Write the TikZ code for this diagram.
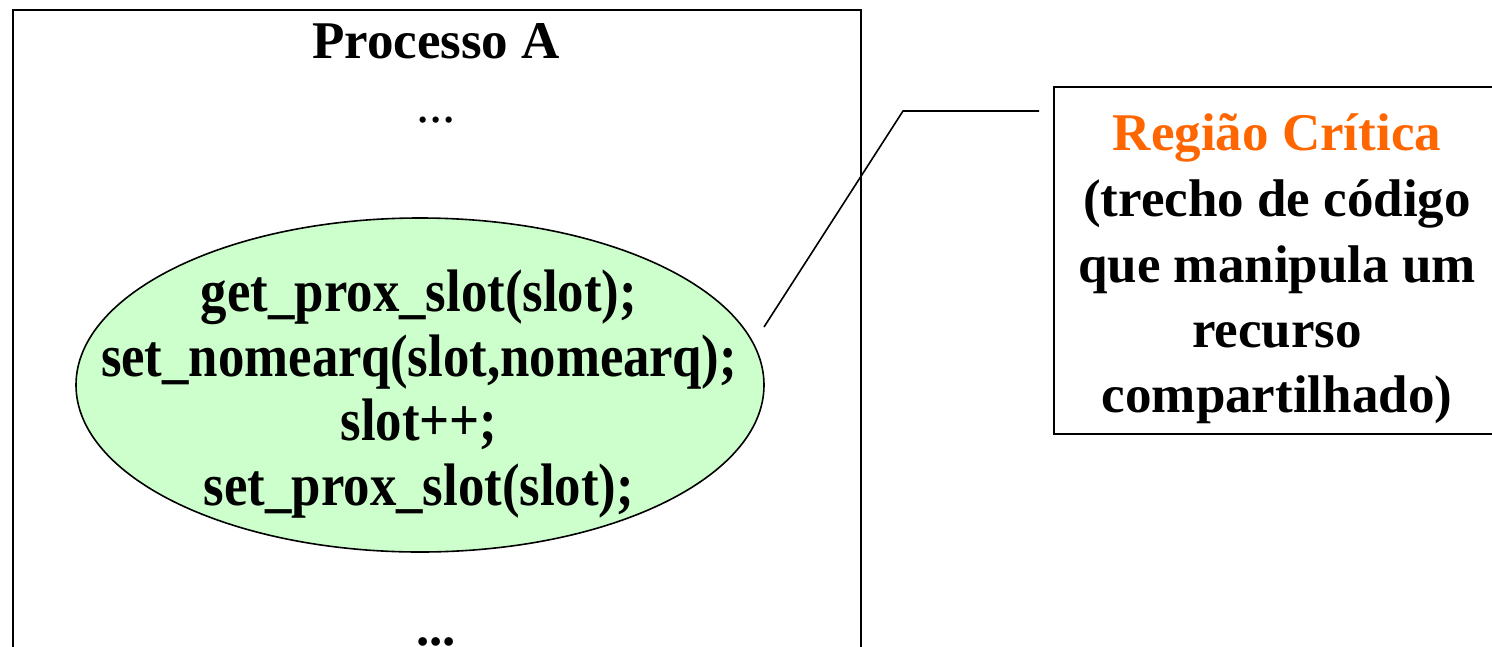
\documentclass[tikz,border=0pt]{standalone}
\usepackage{fontspec}
\setmainfont{Liberation Serif}
\newfontfamily\condfont[FakeStretch=0.88]{Liberation Serif}
\usetikzlibrary{shapes.geometric}
\definecolor{critorange}{HTML}{FF6600}
\definecolor{critgreen}{HTML}{CCFFCC}
\begin{document}
\begin{tikzpicture}[x=1pt,y=-1pt,
  frame/.style={draw=black,line width=1.6pt,rectangle,inner sep=0pt},
  bigtxt/.style={font=\fontsize{53}{64}\selectfont\bfseries,inner sep=0pt,anchor=base},
  dottxt/.style={font=\fontsize{53}{64}\selectfont,inner sep=0pt,anchor=base},
  codetxt/.style={font=\fontsize{60}{64}\condfont\bfseries,inner sep=0pt,anchor=base},
  link/.style={draw=black,line width=1.6pt}]
\useasboundingbox (0,0) rectangle (1492,646);
\clip (0,0) rectangle (1492,646);
% Process A frame (continues below the visible area)
\node[frame,anchor=north west,minimum width=848pt,minimum height=720pt] (procA) at (12,9) {};
\node[bigtxt] (title) at (436,58) {Processo A};
\node[dottxt] (dotsTop) at (436,122) {...};
\node[dottxt,font=\fontsize{53}{64}\selectfont\bfseries] (dotsBot) at (436,645) {...};
% critical region ellipse
\node[ellipse,draw=black,line width=1.6pt,fill=critgreen,minimum width=688pt,minimum height=334pt,inner sep=0pt] (crit) at (420,385) {};
\node[codetxt] (l1) at (419,311) {get\_prox\_slot(slot);};
\node[codetxt] (l2) at (419,376) {set\_nomearq(slot,nomearq);};
\node[codetxt] (l3) at (419,440) {slot++;};
\node[codetxt] (l4) at (419,505) {set\_prox\_slot(slot);};
% callout box
\node[frame,anchor=north west,minimum width=448pt,minimum height=347pt] (rbox) at (1053,86) {};
\node[bigtxt,text=critorange] (r0) at (1277,150) {Região Crítica};
\node[bigtxt] (r1) at (1277,216) {(trecho de código};
\node[bigtxt] (r2) at (1277,282) {que manipula um};
\node[bigtxt] (r3) at (1277,347) {recurso};
\node[bigtxt] (r4) at (1277,412) {compartilhado)};
% callout line
\coordinate (cA) at (764,327);
\coordinate (cB) at (903,111);
\coordinate (cC) at (1039,111);
\draw[link] (cA) -- (cB) -- (cC);
\end{tikzpicture}
\end{document}
